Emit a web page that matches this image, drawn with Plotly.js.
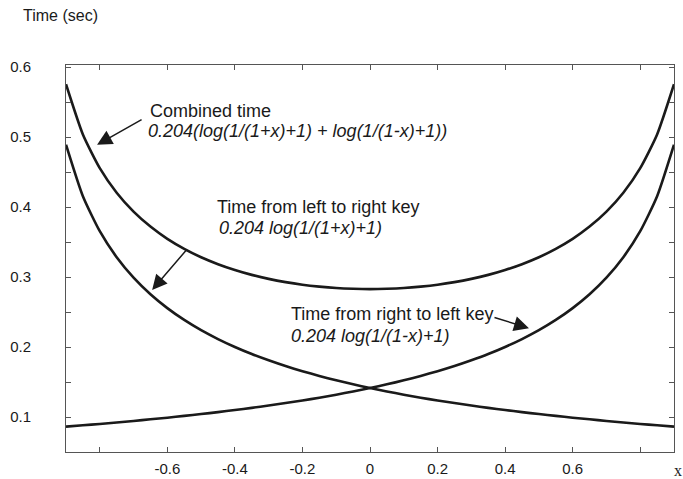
<!DOCTYPE html>
<html>
<head>
<meta charset="utf-8">
<script src="https://cdn.plot.ly/plotly-3.0.1.min.js"></script>
<style>
html,body{margin:0;padding:0;background:#fff;}
#chart{width:683px;height:479px;}
</style>
</head>
<body>
<div id="chart"></div>
<script>
// x positions (key position)
var xValues = [-0.90,-0.85,-0.80,-0.75,-0.70,-0.65,-0.60,-0.55,-0.50,-0.45,-0.40,-0.35,-0.30,-0.25,-0.20,-0.15,-0.10,-0.05,
  0.00,0.05,0.10,0.15,0.20,0.25,0.30,0.35,0.40,0.45,0.50,0.55,0.60,0.65,0.70,0.75,0.80,0.85,0.90];

// Time from left to right key (sec)
var leftToRight = [0.4892,0.4155,0.3655,0.3283,0.2991,0.2754,0.2556,0.2387,0.2241,0.2114,0.2001,0.1900,0.1810,0.1728,0.1654,0.1587,0.1524,0.1467,
  0.1414,0.1365,0.1319,0.1276,0.1236,0.1199,0.1164,0.1131,0.1100,0.1070,0.1042,0.1016,0.0990,0.0967,0.0944,0.0922,0.0901,0.0882,0.0863];

// Time from right to left key (sec)
var rightToLeft = [0.0863,0.0882,0.0901,0.0922,0.0944,0.0967,0.0990,0.1016,0.1042,0.1070,0.1100,0.1131,0.1164,0.1199,0.1236,0.1276,0.1319,0.1365,
  0.1414,0.1467,0.1524,0.1587,0.1654,0.1728,0.1810,0.1900,0.2001,0.2114,0.2241,0.2387,0.2556,0.2754,0.2991,0.3283,0.3655,0.4155,0.4892];

// Combined time (sec)
var combined = [0.5755,0.5037,0.4556,0.4205,0.3935,0.3721,0.3546,0.3403,0.3283,0.3184,0.3101,0.3031,0.2974,0.2927,0.2890,0.2863,0.2843,0.2832,
  0.2828,0.2832,0.2843,0.2863,0.2890,0.2927,0.2974,0.3031,0.3101,0.3184,0.3283,0.3403,0.3546,0.3721,0.3935,0.4205,0.4556,0.5037,0.5755];

var xTickVals = [-0.8,-0.6,-0.4,-0.2,0,0.2,0.4,0.6,0.8];
var xTickText = ['','-0.6','-0.4','-0.2','0','0.2','0.4','0.6',''];
var yTickVals = [0.1,0.2,0.3,0.4,0.5,0.6];
var yTickText = ['0.1','0.2','0.3','0.4','0.5','0.6'];

var yAxisTitle = 'Time (sec)';
var xAxisTitle = 'x';
var labels = {
  combined: 'Combined time',
  combinedF: '0.204(log(1/(1+x)+1) + log(1/(1-x)+1))',
  ltr: 'Time from left to right key',
  ltrF: '0.204 log(1/(1+x)+1)',
  rtl: 'Time from right to left key',
  rtlF: '0.204 log(1/(1-x)+1)'
};

var lineStyle = {color:'#1a1a1a', width:2.6, shape:'spline', smoothing:0.6};
function tr(y){ return {x:xValues, y:y, type:'scatter', mode:'lines', line:lineStyle, hoverinfo:'skip', showlegend:false}; }
var data = [tr(combined), tr(leftToRight), tr(rightToLeft)];

var FONT = 'Liberation Sans, Arial, Helvetica, sans-serif';
var txt = {family:FONT, size:18, color:'#1a1a1a'};

function note(text, px, py, italic){
  return {xref:'paper', yref:'paper', x:(px-66)/608, y:(452-py)/387,
    xanchor:'left', yanchor:'middle', showarrow:false,
    text: italic ? '<i>'+text+'</i>' : text, font: txt};
}
function arrow(hx, hy, ax, ay){
  return {xref:'x', yref:'y', x:hx, y:hy, ax:ax, ay:ay, axref:'pixel', ayref:'pixel',
    text:'', showarrow:true, arrowhead:2, arrowsize:2, arrowwidth:1.5, arrowcolor:'#1a1a1a'};
}

var layout = {
  width:683, height:479,
  margin:{l:66, r:9, t:65, b:27, pad:0},
  paper_bgcolor:'#fff', plot_bgcolor:'#fff',
  showlegend:false,
  font:{family:FONT, size:15, color:'#1a1a1a'},
  xaxis:{range:[-0.9,0.9], tickvals:xTickVals, ticktext:xTickText, ticks:'inside', ticklen:5,
    tickcolor:'#555', linecolor:'#555', linewidth:1, mirror:'ticks', showgrid:false, zeroline:false,
    tickfont:{family:FONT, size:15, color:'#1a1a1a'}, ticklabelstandoff:3},
  yaxis:{range:[0.05,0.603], tickvals:yTickVals, ticktext:yTickText, ticks:'inside', ticklen:5,
    tickcolor:'#555', linecolor:'#555', linewidth:1, mirror:'ticks', showgrid:false, zeroline:false,
    tickfont:{family:FONT, size:15, color:'#1a1a1a'}, ticklabelstandoff:31,
    minor:{tickvals:[0.05,0.15,0.25,0.35,0.45,0.55], ticks:'inside', ticklen:5, tickcolor:'#555', showgrid:false}},
  annotations:[
    {xref:'paper', yref:'paper', x:(21-66)/608, y:(452-15)/387, xanchor:'left', yanchor:'middle',
      showarrow:false, text:yAxisTitle, font:{family:FONT, size:16, color:'#1a1a1a'}},
    {xref:'paper', yref:'paper', x:(678-66)/608, y:(452-470)/387, xanchor:'center', yanchor:'middle',
      showarrow:false, text:xAxisTitle, font:{family:'Liberation Serif, Times New Roman, serif', size:16, color:'#1a1a1a'}},
    note(labels.combined, 148, 111, false),
    note(labels.combinedF, 146, 131, true),
    note(labels.ltr, 215, 207, false),
    note(labels.ltrF, 217, 228, true),
    note(labels.rtl, 289, 314, false),
    note(labels.rtlF, 289, 336, true),
    arrow(-0.808, 0.489, 46, -26),
    arrow(-0.645, 0.2815, 36, -42),
    arrow(0.4707, 0.227, -36, -11)
  ]
};

Plotly.newPlot('chart', data, layout, {staticPlot:true, displayModeBar:false});
</script>
</body>
</html>
